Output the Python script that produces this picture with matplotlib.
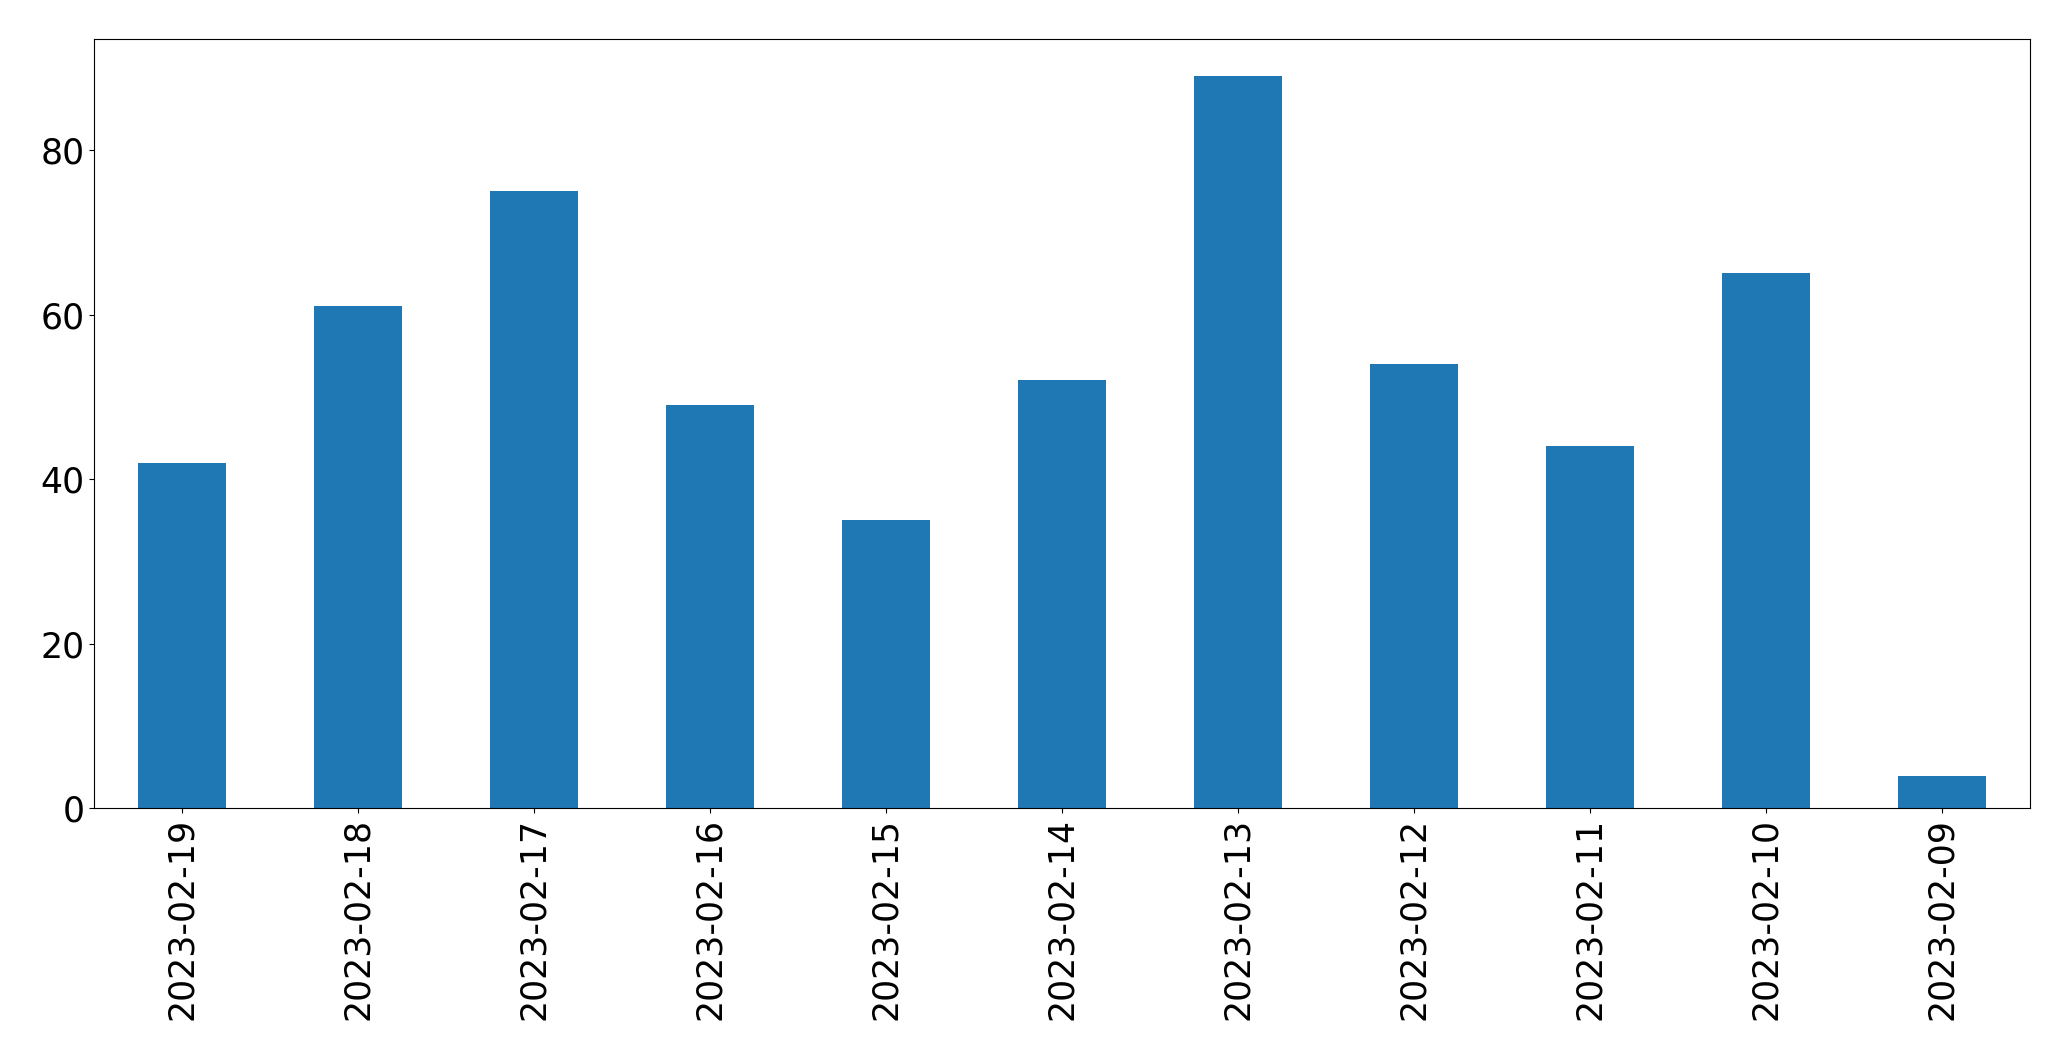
import matplotlib
matplotlib.use("Agg")
import matplotlib.pyplot as plt
import pandas as pd

# 每日数量
dates = ["2023-02-19", "2023-02-18", "2023-02-17", "2023-02-16", "2023-02-15", "2023-02-14",
         "2023-02-13", "2023-02-12", "2023-02-11", "2023-02-10", "2023-02-09"]
counts = [42, 61, 75, 49, 35, 52, 89, 54, 44, 65, 4]

s = pd.Series(counts, index=dates)

plt.rcParams['font.size'] = 25
fig, ax = plt.subplots(figsize=(20.71, 10.61), dpi=100)
s.plot(kind="bar", ax=ax, color="#1f77b4")
ax.tick_params(axis="x", labelrotation=90)

fig.subplots_adjust(left=0.0455, right=0.980, top=0.963, bottom=0.238)
fig.savefig("out.png", dpi=100)
